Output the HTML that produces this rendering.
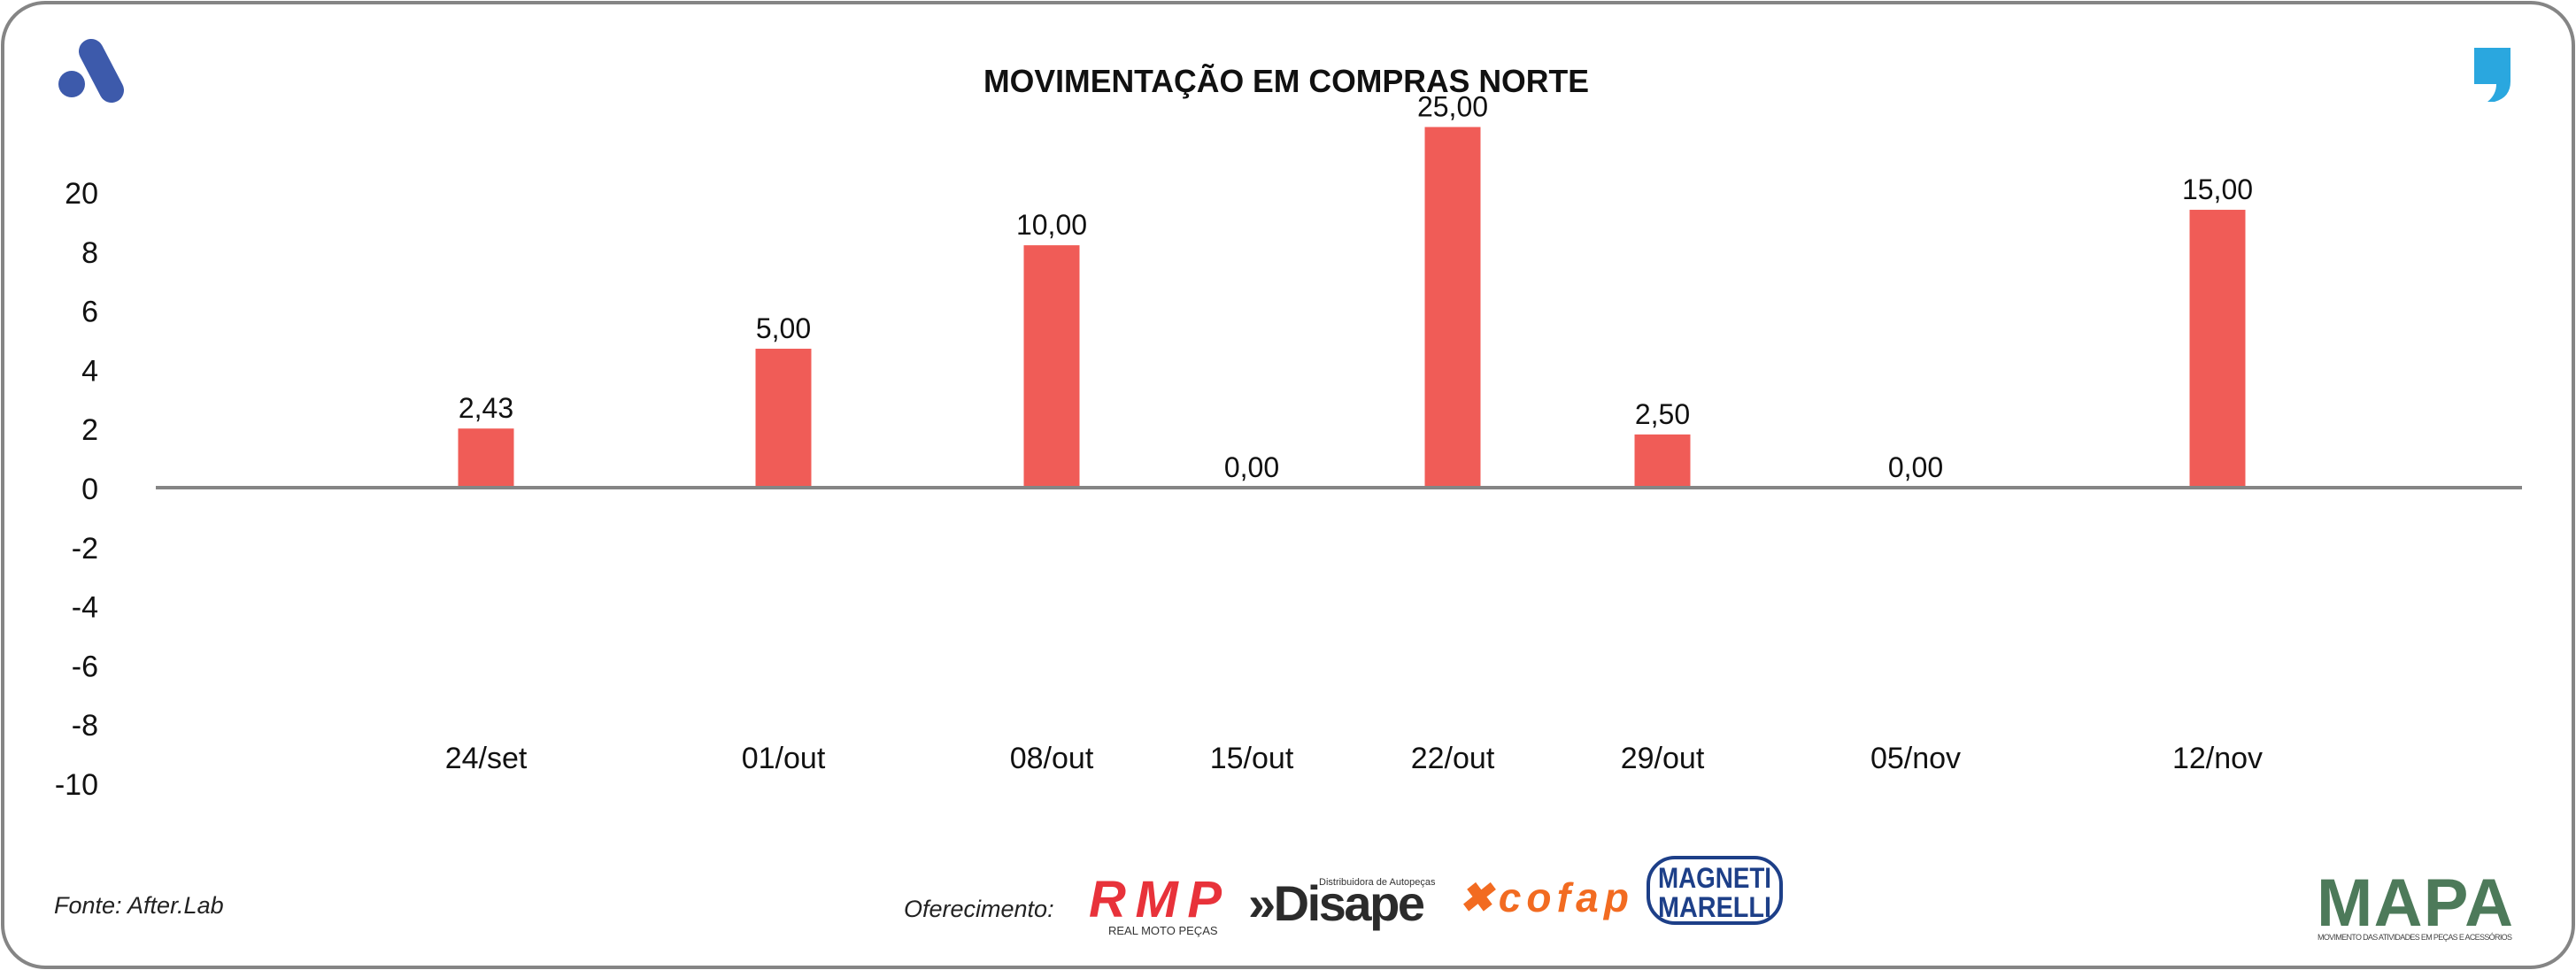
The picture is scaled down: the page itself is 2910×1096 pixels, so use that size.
<!DOCTYPE html>
<html><head><meta charset="utf-8"><style>
body{margin:0;background:#fff;}
svg{display:block;font-family:"Liberation Sans Narrow","Liberation Sans",sans-serif;}
</style></head><body>
<svg width="2910" height="1096" viewBox="0 0 2910 1096">
<rect x="3" y="3" width="2904" height="1090" rx="48" fill="#fff" stroke="#858585" stroke-width="4"/>
<g>
<circle cx="81" cy="95" r="15" fill="#3d5aab"/>
<line x1="103" y1="58" x2="126" y2="102" stroke="#3d5aab" stroke-width="28" stroke-linecap="round"/>
</g>
<path d="M2795 54 h41 v38 q0 18 -18 23 l-8 0 q10 -8 10 -20 h-25 z" fill="#2aa7df"/>
<text x="1453" y="104" text-anchor="middle" font-family="Liberation Sans" font-weight="bold" font-size="36" fill="#111" textLength="684" lengthAdjust="spacingAndGlyphs">MOVIMENTAÇÃO EM COMPRAS NORTE</text>
<g id="yaxis"></g>
<g id="bars"></g>
<line x1="176" y1="551" x2="2849" y2="551" stroke="#858585" stroke-width="4"/>
<text x="61" y="1032" font-style="italic" font-size="27" fill="#222">Fonte: After.Lab</text>
<text x="1021" y="1036" font-style="italic" font-size="27" fill="#222">Oferecimento:</text>
<g>
<text x="1230" y="1036" font-family="Liberation Sans" font-weight="bold" font-style="italic" font-size="58" fill="#e8323a" textLength="150">RMP</text>
<text x="1252" y="1056" font-size="13" fill="#333">REAL MOTO PEÇAS</text>
</g>
<g>
<text x="1410" y="1040" font-family="Liberation Sans" font-weight="bold" font-size="56" fill="#2b2b2b" textLength="200">»Disape</text>
<text x="1490" y="1000" font-size="11" fill="#333">Distribuidora de Autopeças</text>
</g>
<g>
<text x="1648" y="1030" font-family="Liberation Sans" font-weight="bold" font-style="italic" font-size="46" fill="#f26b21" textLength="192">✖cofap</text>
</g>
<g>
<rect x="1862" y="969" width="150" height="74" rx="30" fill="#fff" stroke="#1d3f88" stroke-width="4"/>
<text x="1937" y="1003" text-anchor="middle" font-weight="bold" font-size="32" fill="#1d3f88" textLength="128" lengthAdjust="spacingAndGlyphs">MAGNETI</text>
<text x="1937" y="1036" text-anchor="middle" font-weight="bold" font-size="32" fill="#1d3f88" textLength="128" lengthAdjust="spacingAndGlyphs">MARELLI</text>
</g>
<g>
<text x="2617" y="1046" font-family="Liberation Sans" font-weight="bold" font-size="76" fill="#4d7a5a" textLength="222">MAPA</text>
<text x="2618" y="1062" font-size="9" fill="#444" textLength="220">MOVIMENTO DAS ATIVIDADES EM PEÇAS E ACESSÓRIOS</text>
</g>
</svg>
<script>
var categories=["24/set","01/out","08/out","15/out","22/out","29/out","05/nov","12/nov"];
var plotValues=[2.0,4.7,8.2,0,12.2,1.8,0,9.4];
var valueLabels=["2,43","5,00","10,00","0,00","25,00","2,50","0,00","15,00"];
var tickValues=[10,8,6,4,2,0,-2,-4,-6,-8,-10];
var tickLabels=["20","8","6","4","2","0","-2","-4","-6","-8","-10"];
var xCenters=[549,885,1188,1414,1641,1878,2164,2505];
var NS="http://www.w3.org/2000/svg";
function yScale(v){return 551-v*33.4;}
var ya=document.getElementById('yaxis');
tickValues.forEach(function(t,i){
 var tx=document.createElementNS(NS,'text');
 tx.setAttribute('x',111);tx.setAttribute('y',yScale(t)+13);
 tx.setAttribute('text-anchor','end');tx.setAttribute('font-size','34');tx.setAttribute('fill','#111');
 tx.textContent=tickLabels[i];
 
 
 ya.appendChild(tx);
});
var bg=document.getElementById('bars');
categories.forEach(function(c,i){
 var v=plotValues[i],x=xCenters[i];
 var r=document.createElementNS(NS,'rect');
 r.setAttribute('x',x-31.5);r.setAttribute('width',63);
 r.setAttribute('y',Math.min(yScale(v),551));r.setAttribute('height',Math.abs(v*33.4));
 r.setAttribute('fill','#f05c57');
 
 
 bg.appendChild(r);
 var lb=document.createElementNS(NS,'text');
 lb.setAttribute('x',x);lb.setAttribute('y',yScale(v)-12);
 lb.setAttribute('text-anchor','middle');lb.setAttribute('font-size','32');lb.setAttribute('fill','#111');
 lb.textContent=valueLabels[i];
 
 
 bg.appendChild(lb);
 var cl=document.createElementNS(NS,'text');
 cl.setAttribute('x',x);cl.setAttribute('y',868);
 cl.setAttribute('text-anchor','middle');cl.setAttribute('font-size','34');cl.setAttribute('fill','#111');
 cl.textContent=c;
 
 
 bg.appendChild(cl);
});
</script>
</body></html>
